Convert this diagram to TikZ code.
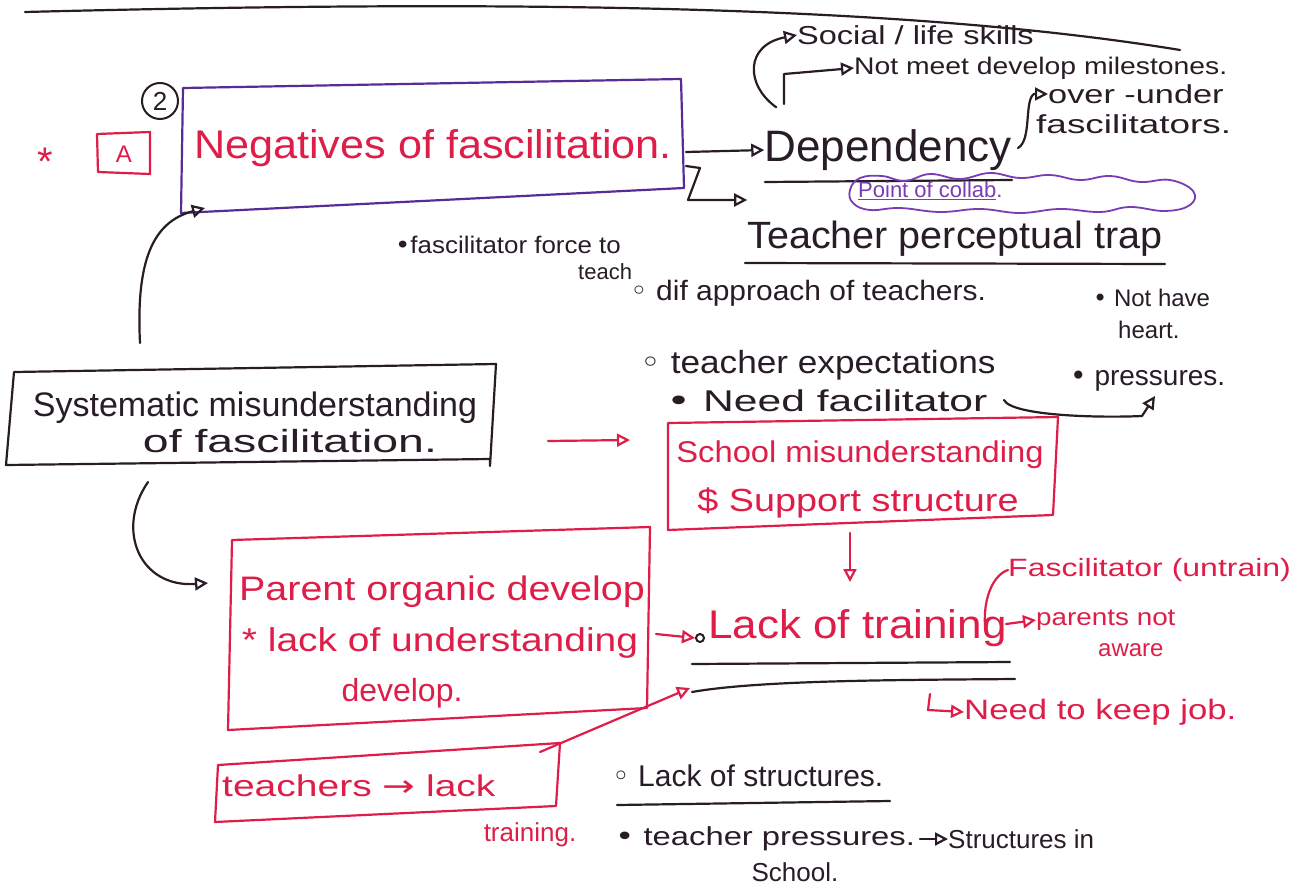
\documentclass[tikz,border=0pt]{standalone}
\usepackage{graphicx}
\usepackage{fontspec}
\setmainfont{Liberation Sans}
\newfontfamily\symf{DejaVu Sans}
\usetikzlibrary{arrows.meta}
\definecolor{inkc}{RGB}{40,28,38}
\definecolor{redc}{RGB}{222,30,72}
\definecolor{boxp}{RGB}{88,44,150}
\definecolor{cloudp}{RGB}{120,60,180}
\newcommand\hfs[1]{\fontsize{#1}{#1}\selectfont}
% widen a piece of text horizontally, like loose handwriting
\newcommand\hx[2]{\scalebox{#1}[1]{#2}}
\tikzset{
  pen/.style={draw=inkc,line width=2.2pt,line join=round,line cap=round},
  rpen/.style={draw=redc,line width=2.2pt,line join=round,line cap=round},
  tip/.style={-{Triangle[open,length=13pt,width=13pt]}},
  btxt/.style={text=inkc,inner sep=0pt},
  rtxt/.style={text=redc,inner sep=0pt},
}
\begin{document}
\begin{tikzpicture}[x=1pt,y=-1pt]
\useasboundingbox (0,0) rectangle (1297,888);
\fill[white] (0,0) rectangle (1297,888);

% rule along the top of the page
\draw[pen] (25,12) .. controls (500,0) and (900,4) .. (1180,50);

% heading marks
\node[rtxt,font=\hfs{40}] (star) at (45,162) {*};
\node[rtxt,font=\hfs{24}] (lblA) at (124,154) {A};
\draw[rpen] (97,134) -- (150,132) -- (150,174) -- (98,172) -- cycle;
\node[btxt,font=\hfs{26},draw=inkc,line width=2pt,circle,minimum size=36pt] (two) at (160,101) {2};

% main heading box
\node[rtxt,font=\hfs{40}] (neg) at (433,148) {\hx{1.08}{Negatives of fascilitation.}};
\draw[draw=boxp,line width=2.2pt,line join=round] (183,88) -- (681,79) -- (684,188) -- (181,213) -- cycle;

% dependency branch
\node[btxt,font=\hfs{44}] (dep) at (888,150) {Dependency};
\draw[pen] (765,182) -- (1012,180);
\coordinate (negR1) at (686,152);
\coordinate (negR2) at (686,166);
\draw[pen,tip] (negR1) -- (dep.west);
\node[btxt,font=\hfs{26},anchor=west] (soc) at (797,35) {\hx{1.25}{Social / life skills}};
\draw[pen,tip] (dep.north west) ++(12,-22) .. controls (745,85) and (745,45) .. (soc.west);
\node[btxt,font=\hfs{24},anchor=west] (mile) at (854,68) {\hx{1.18}{Not meet develop milestones.}};
\draw[pen,tip] (784,104) -- (784,74) -- (mile.west);
\node[btxt,font=\hfs{26},anchor=west] (ovr) at (1048,94) {\hx{1.32}{over -under}};
\node[btxt,font=\hfs{26},anchor=west] (fac) at (1036,124) {\hx{1.42}{fascilitators.}};
\draw[pen,tip] (1018,148) .. controls (1032,140) and (1024,100) .. (1034,94) -- (ovr.west);

% collaboration cloud, a wavy hand-drawn outline
\draw[draw=cloudp,line width=1.8pt,line join=round] plot[smooth cycle,tension=0.7] coordinates {
  (850,190) (860,178) (882,176) (905,181) (930,174) (960,179) (990,173)
  (1020,178) (1050,175) (1080,180) (1110,176) (1140,182) (1170,180)
  (1193,191) (1190,205) (1165,211) (1130,207) (1100,212) (1060,209)
  (1020,213) (980,209) (940,212) (900,208) (870,210) (853,203)};
\node[text=cloudp,inner sep=0pt,font=\hfs{22},anchor=west] (collab) at (858,191) {\underline{Point of collab}.};

% teacher perceptual trap
\node[btxt,font=\hfs{38}] (trap) at (955,239) {\hx{1.04}{Teacher perceptual trap}};
\draw[pen] (745,263) -- (1165,264);
\draw[pen,tip] (negR2) -- (700,168) -- (688,200) -- (trap.west |- 0,200);
\node[btxt,font=\hfs{24},anchor=west] (force) at (395,245) {\hx{1.08}{{\symf•}fascilitator force to}};
\node[btxt,font=\hfs{22},anchor=west] (teach) at (578,272) {teach};
\node[btxt,font=\hfs{28},anchor=west] (dif) at (630,293) {\hx{1.07}{{\symf◦} dif approach of teachers.}};
\node[btxt,font=\hfs{24},anchor=west] (heart1) at (1093,298) {{\symf•} Not have};
\node[btxt,font=\hfs{24},anchor=west] (heart2) at (1118,330) {heart.};
\node[btxt,font=\hfs{32},anchor=west] (expec) at (640,365) {\hx{1.1}{{\symf◦} teacher expectations}};
\node[btxt,font=\hfs{28},anchor=west] (press) at (1070,381) {{\symf•} pressures.};
\node[btxt,font=\hfs{30},anchor=west] (needf) at (666,401) {\hx{1.42}{{\symf•} Need facilitator}};
\coordinate (needE) at (1004,400);
\draw[pen,tip] (needE) .. controls (1012,416) and (1100,418) .. (1142,416) -- (1155,396);

% systematic misunderstanding
\node[btxt,font=\hfs{34}] (sys) at (255,408) {Systematic misunderstanding};
\node[btxt,font=\hfs{32}] (sys2) at (290,441) {\hx{1.45}{of fascilitation.}};
\draw[pen] (14,372) -- (496,364) -- (490,466) -- (490,459) -- (6,465) -- cycle;
\draw[pen,tip] (140,343) .. controls (136,262) and (152,222) .. (205,208);

% school box
\node[rtxt,font=\hfs{30}] (school) at (860,455) {\hx{1.09}{School misunderstanding}};
\node[rtxt,font=\hfs{32}] (supp) at (858,503) {\hx{1.18}{\$ Support structure}};
\draw[rpen] (668,423) -- (1058,417) -- (1053,515) -- (668,530) -- cycle;
\coordinate (sysR) at (548,441);
\coordinate (schL) at (630,440);
\draw[rpen,tip] (sysR) -- (schL);
\coordinate (schB) at (850,533);
\coordinate (trnT) at (850,582);
\draw[rpen,tip] (schB) -- (trnT);

% parent box
\node[rtxt,font=\hfs{34}] (par1) at (442,592) {\hx{1.16}{Parent organic develop}};
\node[rtxt,font=\hfs{33}] (par2) at (440,643) {\hx{1.18}{* lack of understanding}};
\node[rtxt,font=\hfs{32}] (par3) at (402,693) {develop.};
\draw[rpen] (232,540) -- (650,527) -- (647,708) -- (228,730) -- cycle;
\coordinate (sysB) at (148,482);
\coordinate (parL) at (208,583);
\draw[pen,tip] (sysB) .. controls (115,530) and (140,588) .. (parL);

% lack of training
\node[rtxt,font=\hfs{40},anchor=west] (train) at (708,628) {\hx{1.1}{Lack of training}};
\node[draw=inkc,line width=2pt,circle,inner sep=0pt,minimum size=8pt] (tdot) at (700,638) {};
\coordinate (parR) at (656,634);
\draw[rpen,tip] (parR) -- (tdot.west);
\draw[pen] (692,664) -- (1010,662);
\draw[pen] (692,692) .. controls (760,680) and (900,680) .. (1015,679);
\node[rtxt,font=\hfs{25},anchor=west] (untr) at (1008,570) {\hx{1.28}{Fascilitator (untrain)}};
\draw[rpen] (985,626) .. controls (983,595) and (995,574) .. (untr.west);
\node[rtxt,font=\hfs{24},anchor=west] (aware1) at (1036,620) {\hx{1.16}{parents not}};
\node[rtxt,font=\hfs{24},anchor=west] (aware2) at (1098,650) {aware};
\coordinate (trnR) at (1006,624);
\draw[rpen,tip] (trnR) -- (aware1.west);
\node[rtxt,font=\hfs{28},anchor=west] (job) at (964,712) {\hx{1.24}{Need to keep job.}};
\draw[rpen,tip] (930,694) -- (928,710) -- (job.west);

% teachers box
\node[rtxt,font=\hfs{30},anchor=west] (tch) at (222,786) {\hx{1.3}{teachers {\symf→} lack}};
\node[rtxt,font=\hfs{26}] (tch2) at (530,835) {training.};
\draw[rpen] (218,765) -- (560,743) -- (556,806) -- (215,822) -- cycle;
\coordinate (tchR) at (540,752);
\coordinate (ln2) at (690,688);
\draw[rpen,tip] (tchR) -- (ln2);

% lack of structures
\node[btxt,font=\hfs{30},anchor=west] (struc) at (612,776) {{\symf◦} Lack of structures.};
\draw[pen] (617,805) -- (890,801);
\node[btxt,font=\hfs{26},anchor=west] (tpress) at (615,839) {\hx{1.26}{{\symf•} teacher pressures.}};
\node[btxt,font=\hfs{26},anchor=west] (sinsch) at (948,839) {Structures in};
\node[btxt,font=\hfs{26}] (school2) at (795,872) {School.};
\coordinate (tpE) at (920,839);
\draw[pen,tip] (tpE) -- (sinsch.west);
\end{tikzpicture}
\end{document}
